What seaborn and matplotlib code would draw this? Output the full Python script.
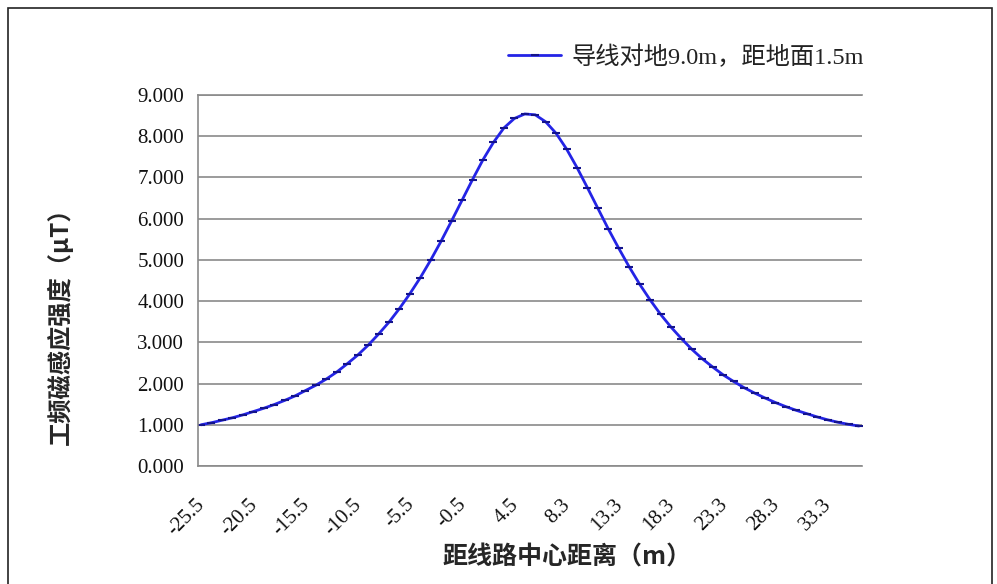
import matplotlib
matplotlib.use("Agg")
import matplotlib.pyplot as plt
from matplotlib.patches import Rectangle
from matplotlib.transforms import ScaledTranslation
import seaborn as sns
import pandas as pd

# ---- data ----
distances = [
    "-25.5", "-24.5", "-23.5", "-22.5", "-21.5", "-20.5", "-19.5", "-18.5", "-17.5", "-16.5",
    "-15.5", "-14.5", "-13.5", "-12.5", "-11.5", "-10.5", "-9.5", "-8.5", "-7.5", "-6.5",
    "-5.5", "-4.5", "-3.5", "-2.5", "-1.5", "-0.5", "0.5", "1.5", "2.5", "3.5",
    "4.5", "5.0", "5.3", "6.3", "7.3", "8.3", "9.3", "10.3", "11.3", "12.3",
    "13.3", "14.3", "15.3", "16.3", "17.3", "18.3", "19.3", "20.3", "21.3", "22.3",
    "23.3", "24.3", "25.3", "26.3", "27.3", "28.3", "29.3", "30.3", "31.3", "32.3",
    "33.3", "34.3", "35.3", "36.3",
]
field_uT = [
    1.00, 1.05, 1.11, 1.17, 1.24, 1.32, 1.40, 1.49, 1.59, 1.70,
    1.83, 1.96, 2.11, 2.28, 2.48, 2.69, 2.93, 3.20, 3.49, 3.82,
    4.18, 4.57, 5.00, 5.46, 5.95, 6.45, 6.95, 7.43, 7.85, 8.20,
    8.43, 8.54, 8.52, 8.35, 8.07, 7.69, 7.24, 6.75, 6.25, 5.75,
    5.28, 4.83, 4.41, 4.03, 3.68, 3.37, 3.09, 2.83, 2.60, 2.40,
    2.21, 2.05, 1.90, 1.77, 1.65, 1.54, 1.44, 1.35, 1.27, 1.19,
    1.12, 1.06, 1.01, 0.97,
]
series_label = "导线对地9.0m，距地面1.5m"
y_ticks = [0, 1, 2, 3, 4, 5, 6, 7, 8, 9]
label_every = 5
x_title = "距线路中心距离（m）"
y_title = "工频磁感应强度（μT）"

# ---- style ----
sns.set_theme(style="white")
plt.rcParams["font.family"] = ["Noto Sans CJK SC", "DejaVu Sans"]
SERIF = ["Liberation Serif", "DejaVu Serif"]
CJK = ["Noto Sans CJK SC", "DejaVu Sans"]
MIXED = ["Liberation Serif", "Noto Sans CJK SC", "DejaVu Sans"]
GRID = "#8a8a8a"

fig = plt.figure(figsize=(9.97, 5.84), dpi=100)
fig.patch.set_facecolor("white")
W, H = 997, 584
ax = fig.add_axes([198 / W, 1 - 466 / H, (862 - 198) / W, (466 - 95) / H])

df = pd.DataFrame({"pos": list(range(len(distances))), "B": field_uT})
sns.lineplot(
    data=df, x="pos", y="B", ax=ax, color="#2424e6", linewidth=2.0,
    marker="_", markersize=5.5, markeredgewidth=1.5, markeredgecolor="#14148c",
    label=series_label,
)

n = len(distances)
ax.set_xlim(-0.29, n - 1 + 0.29)
ax.set_ylim(0, 9)

ax.yaxis.grid(True, color=GRID, linewidth=1.2)
ax.xaxis.grid(False)
ax.spines["right"].set_visible(False)
for s in ["left", "top", "bottom"]:
    ax.spines[s].set_color(GRID)
    ax.spines[s].set_linewidth(1.2)
ax.tick_params(axis="y", length=6, width=1.2, color=GRID, direction="out", pad=4,
               labelcolor="#111111")
ax.tick_params(axis="x", length=0, pad=21, labelcolor="#111111")

ax.set_yticks(y_ticks)
ax.set_yticklabels([f"{v:.3f}" for v in y_ticks], fontfamily=SERIF, fontsize=15)
xt = list(range(0, n, label_every))
ax.set_xticks(xt)
ax.set_xticklabels([distances[i] for i in xt], fontfamily=SERIF, fontsize=15,
                   rotation=45, ha="right", va="top")
shift = ScaledTranslation(8 / 100, 0, fig.dpi_scale_trans)
for lab in ax.xaxis.get_majorticklabels():
    lab.set_transform(lab.get_transform() + shift)

ax.set_xlabel("")
ax.set_ylabel("")
fig.text(567 / W, 1 - 557 / H, x_title, ha="center", va="center",
         fontsize=18, fontweight="bold", fontfamily=CJK)
fig.text(60 / W, 1 - 320 / H, y_title, ha="center", va="center", rotation=90,
         fontsize=17.5, fontweight="bold", fontfamily=CJK)

leg = ax.legend(loc="center left", bbox_to_anchor=(508 / W, 1 - 57 / H),
                bbox_transform=fig.transFigure, frameon=False, fontsize=17.5,
                handlelength=2.2, handletextpad=0.4, borderpad=0, borderaxespad=0)
for t in leg.get_texts():
    t.set_fontfamily(MIXED)
    t.set_color("#222222")

fig.add_artist(Rectangle((8 / W, -0.05), 984 / W, 1.05 - 8 / H,
                         transform=fig.transFigure, fill=False,
                         edgecolor="#222222", linewidth=1.2))

fig.savefig("out.png", dpi=100, facecolor="white")
